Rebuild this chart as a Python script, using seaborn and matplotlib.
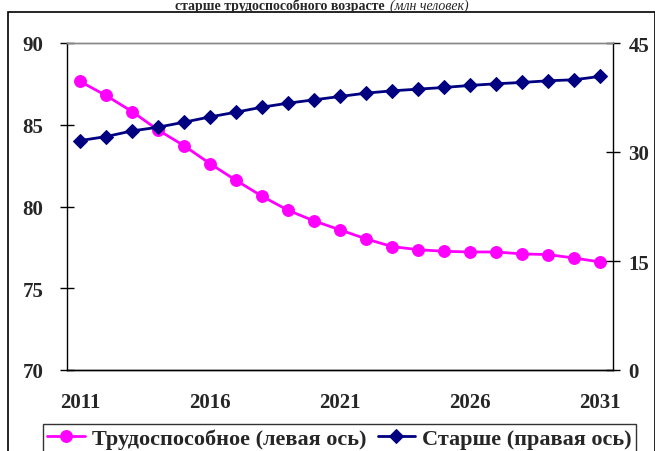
import matplotlib
matplotlib.use("Agg")
import matplotlib.pyplot as plt
import seaborn as sns
import pandas as pd
from matplotlib.patches import Rectangle

years = list(range(2011, 2032))
working_age = [87.65, 86.79, 85.81, 84.68, 83.72, 82.62, 81.60, 80.63, 79.77, 79.12,
               78.57, 78.02, 77.55, 77.36, 77.26, 77.22, 77.22, 77.10, 77.06, 76.85, 76.61]
older = [31.57, 32.12, 32.90, 33.41, 34.10, 34.83, 35.48, 36.17, 36.72, 37.18,
         37.64, 38.10, 38.42, 38.65, 38.88, 39.16, 39.39, 39.57, 39.80, 39.94, 40.40]
label_work = "Трудоспособное (левая ось)"
label_old = "Старше (правая ось)"
xtick_labels = ["2011", "2016", "2021", "2026", "2031"]
left_ticks = [70, 75, 80, 85, 90]
right_ticks = [0, 15, 30, 45]

sns.set_style("white")
plt.rcParams['font.family'] = ['Liberation Serif', 'DejaVu Serif']
plt.rcParams['font.weight'] = 'bold'

df = pd.DataFrame({"idx": range(len(years)), "year": years,
                   "work": working_age, "old": older})

fig = plt.figure(figsize=(6.55, 4.52), dpi=100)
ax = fig.add_axes([67/655, 1-371/452, (613-67)/655, (371-44)/452])
ax2 = ax.twinx()

sns.lineplot(data=df, x="idx", y="work", ax=ax, color="#FF00FF", marker="o",
             markersize=8.5, markeredgecolor="#FF00FF", linewidth=2, label=label_work, legend=False)
sns.lineplot(data=df, x="idx", y="old", ax=ax2, color="#000080", marker="D",
             markersize=7, markeredgecolor="#000080", linewidth=2, label=label_old, legend=False)

ax.set_xlim(-0.35, 20.45)
ax.set_ylim(70, 90)
ax2.set_ylim(0, 45)
ax.set_yticks(left_ticks)
ax.set_yticklabels([str(t) for t in left_ticks], fontsize=15, fontweight='bold')
ax2.set_yticks(right_ticks)
ax2.set_yticklabels([str(t) for t in right_ticks], fontsize=15, fontweight='bold')
ax.set_xticks([years.index(int(y)) for y in xtick_labels])
ax.set_xticklabels(xtick_labels, fontsize=15, fontweight='bold')
ax.set_xticks([i + 0.5 for i in range(-1, len(years))], minor=True)
ax.tick_params(axis='x', which='major', length=0, pad=16)
ax.tick_params(axis='x', which='minor', length=5, direction='out', width=1, color='black')
ax.tick_params(axis='y', which='major', length=10, direction='inout', width=1, color='black', pad=12)
ax2.tick_params(axis='y', which='major', length=10, direction='inout', width=1, color='black', pad=6)
ax.set_xlabel("")
ax.set_ylabel("")
ax2.set_ylabel("")
for a in (ax, ax2):
    for s in ('left', 'right', 'bottom'):
        a.spines[s].set_color('black')
        a.spines[s].set_linewidth(1)
    a.spines['top'].set_color('#888888')
    a.spines['top'].set_linewidth(1)
ax2.spines['left'].set_visible(False)
ax.spines['right'].set_visible(False)

h1, l1 = ax.get_legend_handles_labels()
h2, l2 = ax2.get_legend_handles_labels()
leg = fig.legend(h1 + h2, l1 + l2, loc='upper left', bbox_to_anchor=(43/655, 1-425/452),
                 ncol=2, frameon=True, fancybox=False, edgecolor='black',
                 handlelength=1.7, handletextpad=0.3, columnspacing=0.5, borderpad=0.2,
                 borderaxespad=0, prop={'weight': 'bold', 'size': 16})
leg.get_frame().set_linewidth(1)

fig.patches.append(Rectangle((8/655, -0.05), (654.5-8)/655, 1.05 - 13/452,
                             transform=fig.transFigure, fill=False, edgecolor='black',
                             linewidth=1.2, zorder=0))

fig.text(385/655, 1 - 10/452, "старше трудоспособного возрасте", ha='right', va='baseline',
         fontsize=10, fontweight='bold')
fig.text(390/655, 1 - 10/452, "(млн человек)", ha='left', va='baseline',
         fontsize=10, fontweight='normal', style='italic')

fig.savefig("out.png", dpi=100)
